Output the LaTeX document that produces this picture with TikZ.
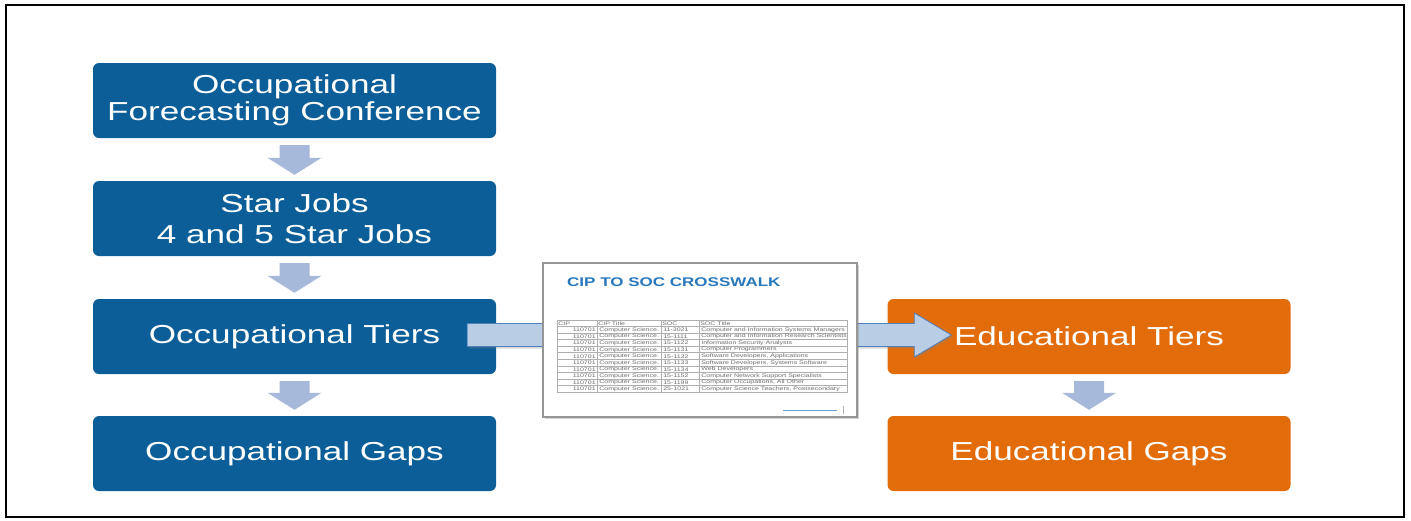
\documentclass[tikz,border=0pt]{standalone}
\usepackage{fontspec}
\setmainfont{Liberation Sans}[FakeStretch=1.35]
\usetikzlibrary{calc,shadows}
\definecolor{boxblue}{RGB}{11,94,152}
\definecolor{boxorange}{RGB}{227,108,10}
\definecolor{arrfill}{RGB}{185,205,229}
\definecolor{arredge}{RGB}{79,129,189}
\definecolor{arrdown}{RGB}{167,185,218}
\definecolor{titleblue}{RGB}{40,120,190}
\definecolor{tblgray}{RGB}{110,110,110}
\definecolor{tblline}{RGB}{175,175,175}
\definecolor{docedge}{RGB}{150,150,150}
\newcommand\dnarrow[2]{%
  \fill[darr] ($(#1.south)+(-15,7)$) -- ($(#2.north)+(-15,-23)$) -- ($(#2.north)+(-27,-23)$) -- ($(#2.north)+(0,-6)$) -- ($(#2.north)+(27,-23)$) -- ($(#2.north)+(15,-23)$) -- ($(#1.south)+(15,7)$) -- cycle;}
\begin{document}
\begin{tikzpicture}[x=1pt,y=-1pt,
  box/.style={rounded corners=6pt, minimum width=403pt, minimum height=75pt, text=white, align=center, font=\fontsize{26}{27}\selectfont, inner sep=0pt},
  bbox/.style={box, fill=boxblue},
  obox/.style={box, fill=boxorange},
  darr/.style={fill=arrdown},
  harr/.style={fill=arrfill, draw=arredge, line width=0.8pt, drop shadow={shadow xshift=2pt, shadow yshift=-2pt, opacity=0.3}},
  tcell/.style={font=\fontsize{5.2}{6}\selectfont, text=tblgray, inner sep=0.6pt},
  tline/.style={draw=tblline, line width=0.5pt}]
\useasboundingbox (0,0) rectangle (1411,520);
\draw[line width=2pt] (6,5) rectangle (1404,517);

\node[bbox] (occ1) at (294.5,100.5) {Occupational\\Forecasting Conference};
\node[bbox] (occ2) at (294.5,218.5) {Star Jobs\\[4pt]4 and 5 Star Jobs};
\node[bbox] (occ3) at (294.5,336.5) {Occupational Tiers};
\node[bbox] (occ4) at (294.5,453.5) {Occupational Gaps};
\node[obox] (edu3) at (1089,336.5) {Educational Tiers};
\node[obox] (edu4) at (1089,453.5) {Educational Gaps};

\dnarrow{occ1}{occ2}
\dnarrow{occ2}{occ3}
\dnarrow{occ3}{occ4}
\dnarrow{edu3}{edu4}

\coordinate (hs) at ($(occ3.east)+(-29,-1.5)$);
\coordinate (ht) at ($(edu3.west)+(64,-1.5)$);
\draw[harr] ($(hs)+(0,-11.5)$) -- ($(ht)+(-37,-11.5)$) -- ($(ht)+(-37,-22)$) -- (ht) -- ($(ht)+(-37,22)$) -- ($(ht)+(-37,11.5)$) -- ($(hs)+(0,11.5)$) -- cycle;

\node[fill=white, draw=docedge, line width=1.2pt, minimum width=314pt, minimum height=154pt, inner sep=0pt, drop shadow={shadow xshift=2pt, shadow yshift=-2pt, opacity=0.35}] (doc) at (700,340) {};
\node[anchor=west, inner sep=0pt, font=\bfseries\fontsize{12.6}{13}\selectfont, text=titleblue] (doctitle) at (567,282.5) {CIP TO SOC CROSSWALK};

\draw[tline] (557,320) rectangle (847,392);
\foreach \k in {1,...,10} \draw[tline] (557,{320+6.545*\k}) -- (847,{320+6.545*\k});
\foreach \xx in {597,661,699} \draw[tline] (\xx,320) -- (\xx,392);

\node[tcell, anchor=west] (h1) at (557.5,323.5) {CIP};
\node[tcell, anchor=west] (h2) at (597.5,323.5) {CIP Title};
\node[tcell, anchor=west] (h3) at (661.5,323.5) {SOC};
\node[tcell, anchor=west] (h4) at (699.5,323.5) {SOC Title};
\foreach \soc/\title [count=\i] in {11-3021/Computer and Information Systems Managers,
  15-1111/Computer and Information Research Scientists,
  15-1122/Information Security Analysts,
  15-1131/Computer Programmers,
  15-1132/{Software Developers, Applications},
  15-1133/{Software Developers, Systems Software},
  15-1134/Web Developers,
  15-1152/Computer Network Support Specialists,
  15-1199/{Computer Occupations, All Other},
  25-1021/{Computer Science Teachers, Postsecondary}} {
  \node[tcell, anchor=east] (r\i a) at (596.5,{323.5+6.545*\i}) {110701};
  \node[tcell, anchor=west] (r\i b) at (598.5,{323.5+6.545*\i}) {Computer Science.};
  \node[tcell, anchor=west] (r\i c) at (662.5,{323.5+6.545*\i}) {\soc};
  \node[tcell, anchor=west] (r\i d) at (700.5,{323.5+6.545*\i}) {\title};
}
\draw[titleblue!70, line width=1pt] (783,410) -- (837,410);
\draw[tblline, line width=0.6pt] (843,406) -- (843,414);
\end{tikzpicture}
\end{document}
